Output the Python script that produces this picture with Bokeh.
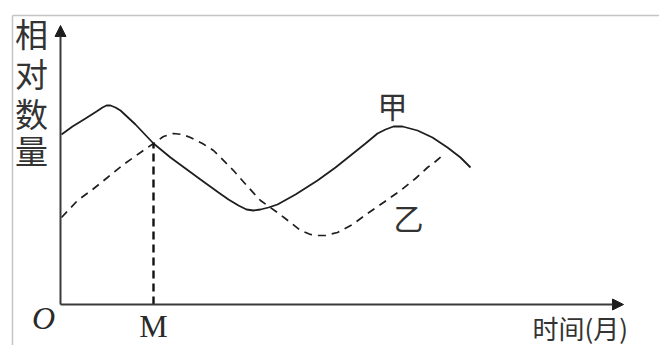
from bokeh.plotting import figure
from bokeh.models import Range1d, Label, Arrow, NormalHead
from bokeh.embed import file_html
from bokeh.resources import INLINE

# 甲 (solid) : time, relative quantity
jia_t = [1, 12, 25, 36, 42, 46, 50, 55, 60, 75, 93, 110, 125, 140, 158, 168, 178, 186, 193, 200, 208, 217, 235, 257, 275, 290, 305, 317, 325, 333, 342, 357, 372, 387, 400, 410]
jia_v = [170, 178, 186, 193, 197, 199, 199, 197, 194, 180, 161, 147, 136, 125, 112, 105, 99, 95, 94, 95, 97, 100, 110, 124, 137, 149, 161, 171, 175, 178, 178, 174, 167, 157, 147, 137]
# 乙 (dashed)
yi_t = [1, 17, 32, 47, 63, 80, 93, 103, 113, 122, 130, 142, 153, 173, 188, 200, 217, 230, 240, 250, 257, 265, 277, 292, 307, 323, 340, 355, 367, 375, 382]
yi_v = [87, 104, 115, 127, 140, 152, 161, 168, 171, 170, 167, 161, 154, 134, 117, 104, 92, 82, 74, 70, 69, 69, 72, 80, 91, 102, 114, 126, 137, 143, 149]
M_t = 93
M_v = 161
x_axis_end = 563
y_axis_end = 279
frame_left = -48
frame_top = 289

p = figure(width=659, height=345, output_backend="svg", toolbar_location=None,
           x_axis_type=None, y_axis_type=None,
           x_range=Range1d(-60, 599), y_range=Range1d(-41, 304),
           min_border=0, min_border_left=0, min_border_right=0,
           min_border_top=0, min_border_bottom=0)
p.outline_line_color = None
p.background_fill_color = "white"
p.border_fill_color = "white"

# light frame (top and left)
p.segment(x0=[frame_left, frame_left], y0=[frame_top, frame_top],
          x1=[599, frame_left], y1=[frame_top, -41],
          line_color="#c4c4c4", line_width=1.5)

ink = "#1e1e1e"
# axes with arrows
p.add_layout(Arrow(x_start=0, y_start=0, x_end=x_axis_end, y_end=0,
                   line_color="#3a3a3a", line_width=2,
                   end=NormalHead(size=11, fill_color=ink, line_color=ink)))
p.add_layout(Arrow(x_start=0, y_start=0, x_end=0, y_end=y_axis_end,
                   line_color="#3a3a3a", line_width=2,
                   end=NormalHead(size=11, fill_color=ink, line_color=ink)))

# curves
p.line(jia_t, jia_v, line_color=ink, line_width=1.8)
p.line(yi_t, yi_v, line_color=ink, line_width=1.7, line_dash="8 6")
p.line([M_t, M_t], [0, M_v], line_color="#111111", line_width=2.4, line_dash="8 5")

cjk = "Noto Sans CJK SC"
for ch, yy in zip(["相", "对", "数", "量"], [272, 232, 192, 155]):
    p.add_layout(Label(x=-29, y=yy, text=ch, text_font=cjk, text_font_size="33px",
                       text_align="center", text_baseline="middle", text_color="#333333"))

p.add_layout(Label(x=332, y=200, text="甲", text_font=cjk, text_font_size="30px",
                   text_align="center", text_baseline="middle", text_color="#333333"))
p.add_layout(Label(x=348, y=88, text="乙", text_font=cjk, text_font_size="30px",
                   text_align="center", text_baseline="middle", text_color="#333333"))
p.add_layout(Label(x=-17, y=-13, text="O", text_font="Liberation Serif", text_font_size="32px",
                   text_font_style="italic", text_align="center", text_baseline="middle",
                   text_color="#2a2a2a"))
p.add_layout(Label(x=M_t, y=-21, text="M", text_font="Liberation Serif", text_font_size="32px",
                   text_align="center", text_baseline="middle", text_color="#2a2a2a"))
p.add_layout(Label(x=472, y=-23, text="时间(月)", text_font=cjk, text_font_size="26px",
                   text_align="left", text_baseline="middle", text_color="#333333"))

open("out.html", "w").write(file_html(p, INLINE))
